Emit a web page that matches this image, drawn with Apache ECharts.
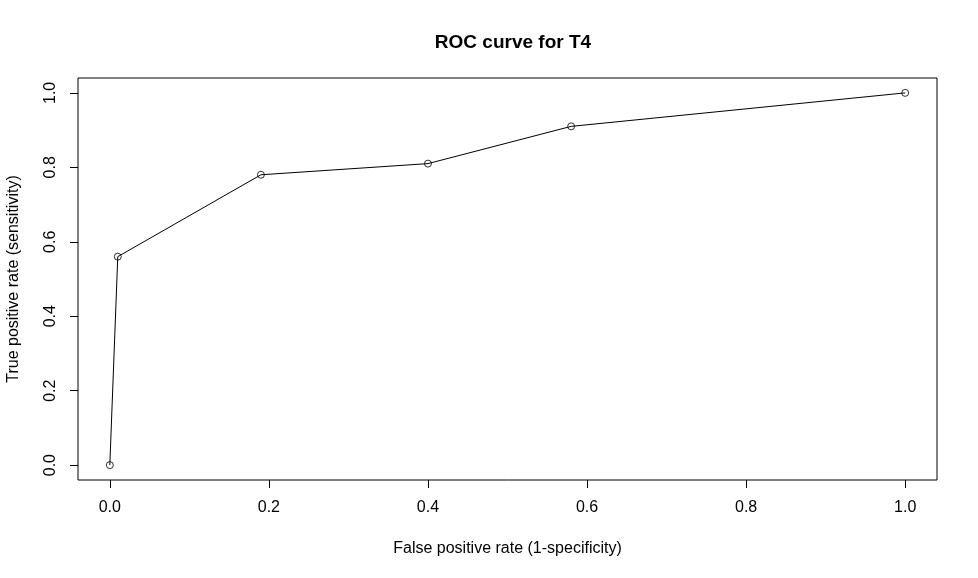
<!DOCTYPE html>
<html>
<head>
<meta charset="utf-8">
<script src="https://cdn.jsdelivr.net/npm/echarts@6/dist/echarts.min.js"></script>
<style>html,body{margin:0;padding:0;background:#fff}#c{width:978px;height:578px}</style>
</head>
<body>
<div id="c"></div>
<script>
var fpr = [0, 0.01, 0.19, 0.40, 0.58, 1.0];
var tpr = [0, 0.56, 0.78, 0.81, 0.91, 1.0];
var tickValues = [0, 0.2, 0.4, 0.6, 0.8, 1.0];
var titleText = 'ROC curve for T4';
var xName = 'False positive rate (1-specificity)';
var yName = 'True positive rate (sensitivity)';

var points = fpr.map(function (x, i) { return [x, tpr[i]]; });
var font = 'Liberation Sans, Arial, sans-serif';
var chart = echarts.init(document.getElementById('c'));
chart.setOption({
  animation: false,
  backgroundColor: '#fff',
  title: {
    text: titleText, left: 508, top: 28, textAlign: 'center',
    textStyle: { fontFamily: font, fontSize: 19, fontWeight: 'bold', color: '#000' }
  },
  grid: { left: 78, top: 78, width: 859, height: 402, containLabel: false, outerBoundsMode: 'none',
    show: true, borderColor: '#000', borderWidth: 1, backgroundColor: 'transparent' },
  xAxis: {
    type: 'value', min: -0.04, max: 1.04,
    axisLine: { show: false, onZero: false },
    splitLine: { show: false },
    axisTick: { show: true, inside: false, length: 8, customValues: tickValues, lineStyle: { color: '#000' } },
    axisLabel: { customValues: tickValues, margin: 20, fontFamily: font, fontSize: 16, color: '#000',
      formatter: function (v) { return v.toFixed(1); } },
    name: xName, nameLocation: 'middle', nameGap: 61,
    nameTextStyle: { fontFamily: font, fontSize: 16, color: '#000' }
  },
  yAxis: {
    type: 'value', min: -0.04, max: 1.04,
    axisLine: { show: false, onZero: false },
    splitLine: { show: false },
    axisTick: { show: true, inside: false, length: 8, customValues: tickValues, lineStyle: { color: '#000' } },
    axisLabel: { customValues: tickValues, rotate: 90, margin: 27, fontFamily: font, fontSize: 16, color: '#000',
      verticalAlign: 'middle', align: 'center',
      formatter: function (v) { return v.toFixed(1); } },
    name: yName, nameLocation: 'middle', nameGap: 56,
    nameTextStyle: { fontFamily: font, fontSize: 16, color: '#000' }
  },
  series: [{
    type: 'line', data: points, symbol: 'none',
    lineStyle: { color: '#000', width: 1 }
  }, {
    type: 'scatter', data: points,
    symbol: 'circle', symbolSize: 7,
    itemStyle: { color: 'rgba(255,255,255,0)', borderColor: '#000', borderWidth: 1 }
  }]
});
</script>
</body>
</html>
